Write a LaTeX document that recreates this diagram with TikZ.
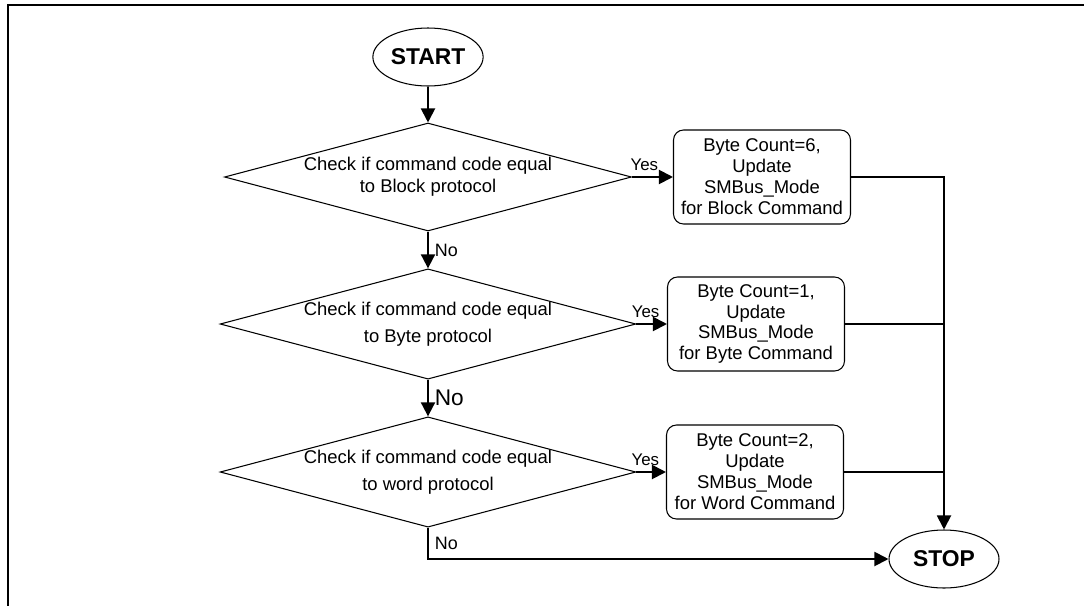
\documentclass[tikz,border=0pt]{standalone}
\usepackage{fontspec}
\setmainfont{Liberation Sans}
\usetikzlibrary{arrows.meta,shapes.geometric}

\begin{document}
\begin{tikzpicture}
	\tikzstyle{term}=[ellipse,draw=black,line width=0.6pt,minimum width=2.2cm,minimum height=1.16cm,inner sep=1pt,font=\fontsize{13}{15}\selectfont\bfseries]
	\tikzstyle{test}=[diamond,draw=black,line width=0.6pt,aspect=3.77,minimum width=8.14cm,minimum height=2.16cm,inner sep=0pt,align=center,font=\fontsize{10.5}{12.5}\selectfont]
	\tikzstyle{task}=[rectangle,rounded corners=0.2cm,draw=black,line width=0.6pt,minimum width=3.54cm,minimum height=1.88cm,inner sep=1pt,align=center,font=\fontsize{10.5}{11.9}\selectfont]
	\tikzstyle{flow}=[line width=1.1pt,-{Triangle[length=0.28cm,width=0.28cm]}]
	\tikzstyle{merge}=[line width=1.1pt]
	\tikzstyle{lbl}=[font=\fontsize{9.6}{11}\selectfont]
	\useasboundingbox (0,0) rectangle (21.68,-12.12);
	\draw[line width=1.1pt] (21.68,-0.1) -| (0.16,-12.12);
	\node[term] (1) at (8.56,-1.14) {START};
	\node[test] (2) at (8.56,-3.54) {Check if command code equal\\to Block protocol};
	\node[test] (3) at (8.56,-6.48) {Check if command code equal\\[3pt]to Byte protocol};
	\node[test] (4) at (8.56,-9.44) {Check if command code equal\\[3pt]to word protocol};
	\node[task] (5) at (15.24,-3.54) {Byte Count=6,\\Update\\SMBus\_Mode\\for Block Command};
	\node[task] (6) at (15.12,-6.48) {Byte Count=1,\\Update\\SMBus\_Mode\\for Byte Command};
	\node[task] (7) at (15.10,-9.44) {Byte Count=2,\\Update\\SMBus\_Mode\\for Word Command};
	\node[term] (8) at (18.88,-11.18) {STOP};
	\draw[flow] (1) -- (2);
	\draw[flow] (2) -- node[right,font=\fontsize{10.2}{12}\selectfont] {No} (3);
	\draw[flow] (3) -- node[right,font=\fontsize{12.9}{15}\selectfont] {No} (4);
	\draw[flow] (2) -- node[lbl,above,pos=0.3] {Yes} (5);
	\draw[flow] (3) -- node[lbl,above,pos=0.3] {Yes} (6);
	\draw[flow] (4) -- node[lbl,above,pos=0.3] {Yes} (7);
	\draw[flow] (5) -| (8);
	\draw[merge] (6) -- (6 -| 8);
	\draw[merge] (7) -- (7 -| 8);
	\draw[flow] (4) |- node[right,pos=0.25,font=\fontsize{10.2}{12}\selectfont] {No} (8);
\end{tikzpicture}
\end{document}
